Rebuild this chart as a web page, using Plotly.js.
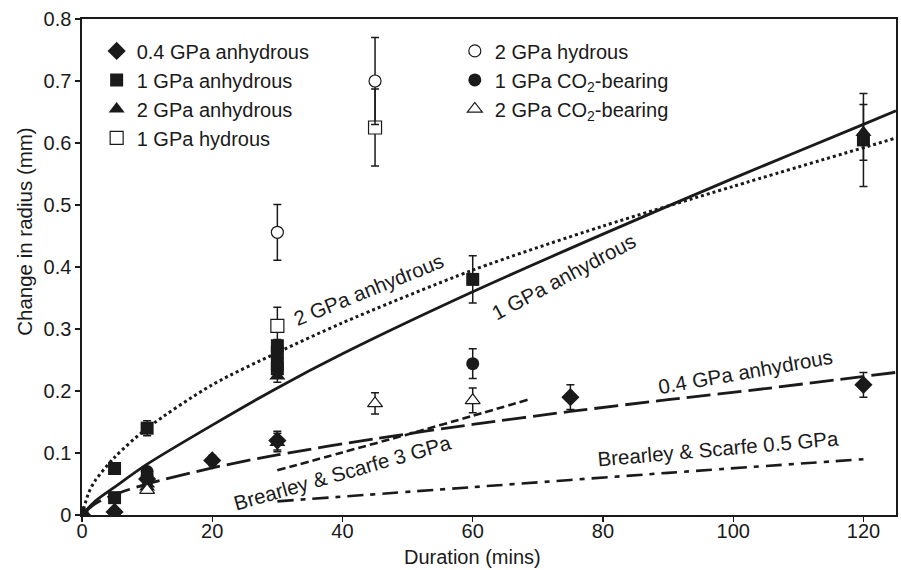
<!DOCTYPE html>
<html>
<head>
<meta charset="utf-8">
<script src="https://cdn.plot.ly/plotly-3.0.1.min.js"></script>
<style>html,body{margin:0;padding:0;background:#fff;}#chart{width:901px;height:570px;}</style>
</head>
<body>
<div id="chart"></div>
<script>
// ---- data ----
const anh04_x = [0, 5, 10, 20, 30, 75, 120];
const anh04_y = [0, 0.005, 0.058, 0.088, 0.12, 0.19, 0.21];
const anh04_e = [0, 0, 0, 0.008, 0.015, 0.02, 0.02];

const anh1_x = [0, 5, 5, 10, 30, 30, 30, 30, 60, 120];
const anh1_y = [0, 0.075, 0.028, 0.14, 0.273, 0.262, 0.243, 0.236, 0.38, 0.605];
const anh1_e = [0, 0, 0.005, 0.012, 0.01, 0.01, 0.01, 0.01, 0.038, 0.075];

const anh2_x = [0, 10, 10, 30, 30, 120];
const anh2_y = [0, 0.05, 0.045, 0.224, 0.117, 0.617];
const anh2_e = [0, 0.005, 0.005, 0.01, 0.015, 0.045];

const hyd1_x = [30, 45];
const hyd1_y = [0.305, 0.625];
const hyd1_e = [0.03, 0.062];

const hyd2_x = [30, 45];
const hyd2_y = [0.456, 0.70];
const hyd2_e = [0.045, 0.07];

const co2_1_x = [10, 10, 60];
const co2_1_y = [0.07, 0.064, 0.244];
const co2_1_e = [0, 0, 0.024];

const co2_2_x = [10, 45, 60];
const co2_2_y = [0.04, 0.18, 0.185];
const co2_2_e = [0.005, 0.017, 0.02];

// fitted curves
const fit1_x = [0, 2, 5, 10, 20, 30, 40, 60, 80, 100, 120, 125];
const fit1_y = [0, 0.022, 0.045, 0.082, 0.145, 0.205, 0.26, 0.36, 0.453, 0.543, 0.63, 0.652];

const fit2_x = [0, 1, 2, 5, 10, 20, 30, 40, 60, 80, 100, 125];
const fit2_y = [0, 0.035, 0.055, 0.093, 0.14, 0.21, 0.262, 0.31, 0.395, 0.466, 0.53, 0.608];

const fit04_x = [0, 2, 5, 10, 20, 30, 45, 60, 75, 90, 105, 125];
const fit04_y = [0, 0.018, 0.033, 0.05, 0.076, 0.097, 0.123, 0.146, 0.167, 0.186, 0.204, 0.23];

const bs3_x = [30, 40, 50, 60, 68.5];
const bs3_y = [0.072, 0.101, 0.130, 0.160, 0.186];

const bs05_x = [30, 60, 90, 120];
const bs05_y = [0.022, 0.045, 0.068, 0.09];

const xTicks = [0, 20, 40, 60, 80, 100, 120];
const yTicks = [0, 0.1, 0.2, 0.3, 0.4, 0.5, 0.6, 0.7, 0.8];

const curveLabels = ['2 GPa anhydrous', '1 GPa anhydrous', '0.4 GPa anhydrous', 'Brearley &amp; Scarfe 0.5 GPa', 'Brearley &amp; Scarfe 3 GPa'];
const xTitle = 'Duration (mins)';
const yTitle = 'Change in radius (mm)';

// ---- drawing ----
const FONT = 'Liberation Sans, Arial, Helvetica, sans-serif';
const INK = '#1a1a1a';

function lineTrace(x, y, dash, width) {
  return {x: x, y: y, mode: 'lines', type: 'scatter', showlegend: false, hoverinfo: 'skip',
    line: {color: INK, width: width, dash: dash, shape: 'spline', smoothing: 0.8}};
}
function pts(name, x, y, e, symbol, size, open, legend) {
  return {x: x, y: y, name: name, mode: 'markers', type: 'scatter', legend: legend,
    error_y: {type: 'data', array: e, visible: true, color: INK, thickness: 1.5, width: 4},
    marker: {symbol: symbol, size: size, color: open ? '#ffffff' : INK,
      line: {color: INK, width: open ? 1.2 : 0}}};
}

const traces = [
  lineTrace(fit2_x, fit2_y, '3px,3px', 3),
  lineTrace(fit1_x, fit1_y, 'solid', 2.8),
  lineTrace(fit04_x, fit04_y, '24px,7px', 2.8),
  lineTrace(bs3_x, bs3_y, '8px,4px', 2.6),
  lineTrace(bs05_x, bs05_y, '16px,7px,5px,7px', 2.6),
  pts('0.4 GPa anhydrous', anh04_x, anh04_y, anh04_e, 'diamond', 14, false, 'legend'),
  pts('1 GPa anhydrous', anh1_x, anh1_y, anh1_e, 'square', 13, false, 'legend'),
  pts('2 GPa anhydrous', anh2_x, anh2_y, anh2_e, 'triangle-up', 14, false, 'legend'),
  pts('1 GPa hydrous', hyd1_x, hyd1_y, hyd1_e, 'square', 13, true, 'legend'),
  pts('2 GPa hydrous', hyd2_x, hyd2_y, hyd2_e, 'circle', 12, true, 'legend2'),
  pts('1 GPa CO<sub>2</sub>-bearing', co2_1_x, co2_1_y, co2_1_e, 'circle', 13, false, 'legend2'),
  pts('2 GPa CO<sub>2</sub>-bearing', co2_2_x, co2_2_y, co2_2_e, 'triangle-up', 13, true, 'legend2')
];

function lab(i, x, y, ang) {
  return {text: curveLabels[i], x: x, y: y, xref: 'x', yref: 'y', showarrow: false,
    textangle: ang, font: {family: FONT, size: 20.5, color: INK}};
}

const layout = {
  width: 901, height: 570,
  margin: {l: 82, r: 5, t: 19, b: 55},
  paper_bgcolor: '#ffffff', plot_bgcolor: '#ffffff',
  font: {family: FONT, size: 20, color: INK},
  showlegend: true,
  xaxis: {range: [0, 125], tickvals: xTicks, ticks: 'outside', ticklen: 5, tickwidth: 1.2,
    tickcolor: INK, showline: true, linecolor: INK, linewidth: 1.6, mirror: true,
    showgrid: false, zeroline: false, tickfont: {size: 20}, ticklabelstandoff: -8},
  yaxis: {range: [0, 0.8], tickvals: yTicks, ticks: 'outside', ticklen: 5, tickwidth: 1.2,
    tickcolor: INK, showline: true, linecolor: INK, linewidth: 1.6, mirror: true,
    showgrid: false, zeroline: false, tickfont: {size: 20}},
  legend: {x: 0.018, y: 0.975, xanchor: 'left', yanchor: 'top', bgcolor: 'rgba(0,0,0,0)',
    font: {size: 20}, itemclick: false, tracegroupgap: 0},
  legend2: {x: 0.458, y: 0.975, xanchor: 'left', yanchor: 'top', bgcolor: 'rgba(0,0,0,0)',
    font: {size: 20}, itemclick: false, tracegroupgap: 0},
  annotations: [
    lab(0, 44.0, 0.363, -22),
    lab(1, 74.0, 0.384, -28),
    lab(2, 101.9, 0.232, -10),
    lab(3, 97.6, 0.108, -5),
    lab(4, 40.0, 0.068, -16),
    {text: xTitle, xref: 'paper', yref: 'paper', x: 0.48, y: -0.085, xanchor: 'center', yanchor: 'middle',
      showarrow: false, font: {family: FONT, size: 20, color: INK}},
    {text: yTitle, xref: 'paper', yref: 'paper', x: -0.07, y: 0.571, xanchor: 'center', yanchor: 'middle',
      textangle: -90, showarrow: false, font: {family: FONT, size: 20.5, color: INK}}
  ]
};

Plotly.newPlot('chart', traces, layout, {staticPlot: true, displayModeBar: false});
</script>
</body>
</html>
